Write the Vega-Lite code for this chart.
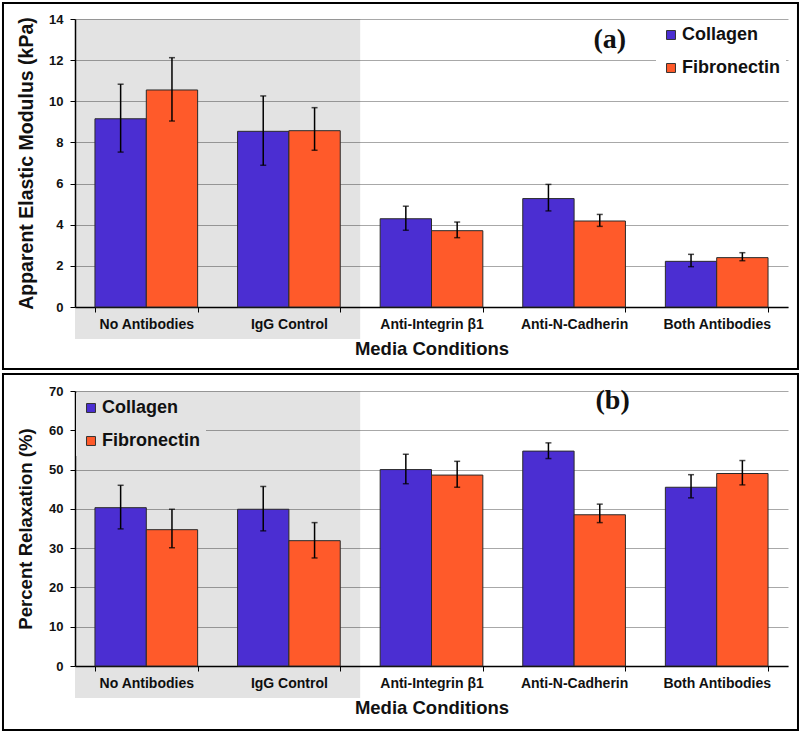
{
  "$schema": "https://vega.github.io/schema/vega-lite/v6.json",
  "padding": {"left": 1, "top": 1, "right": 2, "bottom": 2},
  "background": "white",
  "config": {"view": {"stroke": null}, "font": "Liberation Sans"},
  "datasets": {
    "modulus": [
      {"condition": "No Antibodies", "series": "Collagen", "value": 9.15, "lo": 7.53, "hi": 10.83},
      {"condition": "No Antibodies", "series": "Fibronectin", "value": 10.55, "lo": 9.04, "hi": 12.12},
      {"condition": "IgG Control", "series": "Collagen", "value": 8.54, "lo": 6.89, "hi": 10.26},
      {"condition": "IgG Control", "series": "Fibronectin", "value": 8.57, "lo": 7.62, "hi": 9.69},
      {"condition": "Anti-Integrin β1", "series": "Collagen", "value": 4.29, "lo": 3.73, "hi": 4.9},
      {"condition": "Anti-Integrin β1", "series": "Fibronectin", "value": 3.71, "lo": 3.37, "hi": 4.13},
      {"condition": "Anti-N-Cadherin", "series": "Collagen", "value": 5.27, "lo": 4.67, "hi": 5.96},
      {"condition": "Anti-N-Cadherin", "series": "Fibronectin", "value": 4.18, "lo": 3.92, "hi": 4.5},
      {"condition": "Both Antibodies", "series": "Collagen", "value": 2.22, "lo": 1.96, "hi": 2.56},
      {"condition": "Both Antibodies", "series": "Fibronectin", "value": 2.4, "lo": 2.25, "hi": 2.64}
    ],
    "relax": [
      {"condition": "No Antibodies", "series": "Collagen", "value": 40.3, "lo": 34.9, "hi": 46.0},
      {"condition": "No Antibodies", "series": "Fibronectin", "value": 34.7, "lo": 30.1, "hi": 39.9},
      {"condition": "IgG Control", "series": "Collagen", "value": 39.9, "lo": 34.4, "hi": 45.7},
      {"condition": "IgG Control", "series": "Fibronectin", "value": 31.9, "lo": 27.5, "hi": 36.5},
      {"condition": "Anti-Integrin β1", "series": "Collagen", "value": 50.0, "lo": 46.4, "hi": 53.9},
      {"condition": "Anti-Integrin β1", "series": "Fibronectin", "value": 48.6, "lo": 45.5, "hi": 52.1},
      {"condition": "Anti-N-Cadherin", "series": "Collagen", "value": 54.7, "lo": 52.8, "hi": 56.8},
      {"condition": "Anti-N-Cadherin", "series": "Fibronectin", "value": 38.5, "lo": 36.5, "hi": 41.2},
      {"condition": "Both Antibodies", "series": "Collagen", "value": 45.5, "lo": 42.8, "hi": 48.7},
      {"condition": "Both Antibodies", "series": "Fibronectin", "value": 49.0, "lo": 46.1, "hi": 52.3}
    ]
  },
  "spacing": 2,
  "resolve": {"scale": {"color": "independent"}, "legend": {"color": "independent"}},
  "vconcat": [
    {
      "width": 713,
      "height": 288,
      "resolve": {"scale": {"x": "independent", "y": "independent"}, "axis": {"x": "independent", "y": "independent"}},
      "layer": [
        {
          "data": {"values": [{}]},
          "layer": [
            {
              "mark": {"type": "rect", "fill": "black", "fillOpacity": 0.11},
              "encoding": {
                "x": {"datum": 0, "type": "quantitative", "scale": {"domain": [0, 5], "nice": false, "zero": false}, "axis": null},
                "x2": {"datum": 2},
                "y": {"datum": -1.55, "type": "quantitative", "scale": {"domain": [0, 14], "nice": false, "zero": false}, "axis": null},
                "y2": {"datum": 14}
              }
            },
            {
              "mark": {"type": "rect", "fillOpacity": 0, "stroke": "black", "strokeWidth": 2},
              "encoding": {
                "x": {"datum": -0.505, "type": "quantitative", "scale": {"domain": [0, 5], "nice": false, "zero": false}, "axis": null},
                "x2": {"datum": 5.07},
                "y": {"datum": -3.01, "type": "quantitative", "scale": {"domain": [0, 14], "nice": false, "zero": false}, "axis": null},
                "y2": {"datum": 14.78}
              }
            },
            {
              "mark": {"type": "text", "font": "Liberation Serif", "fontWeight": "bold", "fontSize": 28, "color": "#111"},
              "encoding": {
                "x": {"datum": 3.75, "type": "quantitative", "scale": {"domain": [0, 5], "nice": false, "zero": false}, "axis": null},
                "y": {"datum": 12.98, "type": "quantitative", "scale": {"domain": [0, 14], "nice": false, "zero": false}, "axis": null},
                "text": {"value": "(a)"}
              }
            }
          ]
        },
        {
          "data": {"name": "modulus"},
          "encoding": {
            "x": {
              "field": "condition", "type": "nominal",
              "sort": ["No Antibodies", "IgG Control", "Anti-Integrin β1", "Anti-N-Cadherin", "Both Antibodies"],
              "scale": {"paddingInner": 0.28, "paddingOuter": 0.14},
              "axis": {"title": "Media Conditions", "labelAngle": 0, "tickBand": "extent", "domainColor": "black", "domainWidth": 1.5, "tickColor": "black", "tickSize": 5, "labelFontWeight": "bold", "labelFontSize": 14, "labelColor": "#111", "labelPadding": 5, "titleFontSize": 18.5, "titleFontWeight": "bold", "titleColor": "#111", "titlePadding": 8}
            },
            "xOffset": {"field": "series", "sort": ["Collagen", "Fibronectin"], "scale": {"paddingInner": 0, "paddingOuter": 0}}
          },
          "layer": [
            {
              "mark": {"type": "bar", "stroke": "#2a2a2a", "strokeWidth": 1},
              "encoding": {
                "y": {"field": "value", "type": "quantitative", "title": "Apparent Elastic Modulus (kPa)", "scale": {"domain": [0, 14], "nice": false},
                  "axis": {"values": [0, 2, 4, 6, 8, 10, 12, 14], "grid": true, "gridColor": "#a8a8a8", "domainColor": "black", "domainWidth": 1.5, "tickColor": "black", "tickSize": 5, "labelFontWeight": "bold", "labelFontSize": 13, "labelColor": "#111", "labelPadding": 7, "titleFontSize": 19.5, "titleFontWeight": "bold", "titleColor": "#111", "titlePadding": 12}},
                "color": {"field": "series", "type": "nominal", "scale": {"domain": ["Collagen", "Fibronectin"], "range": ["#4b2ed2", "#ff5a2a"]},
                  "legend": {"orient": "none", "legendX": 581, "legendY": 1, "title": null, "symbolType": "square", "symbolSize": 80, "symbolStrokeColor": "#333", "symbolStrokeWidth": 1, "labelFontSize": 18, "labelFontWeight": "bold", "labelColor": "#111", "rowPadding": 15, "fillColor": "white", "padding": 6, "labelOffset": 2}}
              }
            },
            {
              "mark": {"type": "rule", "color": "black", "strokeWidth": 1.5},
              "encoding": {
                "y": {"field": "lo", "type": "quantitative", "title": "Apparent Elastic Modulus (kPa)", "scale": {"domain": [0, 14], "nice": false},
                  "axis": {"values": [0, 2, 4, 6, 8, 10, 12, 14], "grid": true, "gridColor": "#a8a8a8", "domainColor": "black", "domainWidth": 1.5, "tickColor": "black", "tickSize": 5, "labelFontWeight": "bold", "labelFontSize": 13, "labelColor": "#111", "labelPadding": 7, "titleFontSize": 19.5, "titleFontWeight": "bold", "titleColor": "#111", "titlePadding": 12}},
                "y2": {"field": "hi"}
              }
            },
            {
              "mark": {"type": "tick", "orient": "horizontal", "size": 6, "thickness": 1.5, "color": "black"},
              "encoding": {"y": {"field": "lo", "type": "quantitative", "title": "Apparent Elastic Modulus (kPa)", "scale": {"domain": [0, 14], "nice": false},
                  "axis": {"values": [0, 2, 4, 6, 8, 10, 12, 14], "grid": true, "gridColor": "#a8a8a8", "domainColor": "black", "domainWidth": 1.5, "tickColor": "black", "tickSize": 5, "labelFontWeight": "bold", "labelFontSize": 13, "labelColor": "#111", "labelPadding": 7, "titleFontSize": 19.5, "titleFontWeight": "bold", "titleColor": "#111", "titlePadding": 12}}}
            },
            {
              "mark": {"type": "tick", "orient": "horizontal", "size": 6, "thickness": 1.5, "color": "black"},
              "encoding": {"y": {"field": "hi", "type": "quantitative", "title": "Apparent Elastic Modulus (kPa)", "scale": {"domain": [0, 14], "nice": false},
                  "axis": {"values": [0, 2, 4, 6, 8, 10, 12, 14], "grid": true, "gridColor": "#a8a8a8", "domainColor": "black", "domainWidth": 1.5, "tickColor": "black", "tickSize": 5, "labelFontWeight": "bold", "labelFontSize": 13, "labelColor": "#111", "labelPadding": 7, "titleFontSize": 19.5, "titleFontWeight": "bold", "titleColor": "#111", "titlePadding": 12}}}
            }
          ]
        }
      ]
    },
    {
      "width": 713,
      "height": 275,
      "resolve": {"scale": {"x": "independent", "y": "independent"}, "axis": {"x": "independent", "y": "independent"}},
      "layer": [
        {
          "data": {"values": [{}]},
          "layer": [
            {
              "mark": {"type": "rect", "fill": "black", "fillOpacity": 0.11},
              "encoding": {
                "x": {"datum": 0, "type": "quantitative", "scale": {"domain": [0, 5], "nice": false, "zero": false}, "axis": null},
                "x2": {"datum": 2},
                "y": {"datum": -8.14, "type": "quantitative", "scale": {"domain": [0, 70], "nice": false, "zero": false}, "axis": null},
                "y2": {"datum": 70}
              }
            },
            {
              "mark": {"type": "rect", "fillOpacity": 0, "stroke": "black", "strokeWidth": 2},
              "encoding": {
                "x": {"datum": -0.505, "type": "quantitative", "scale": {"domain": [0, 5], "nice": false, "zero": false}, "axis": null},
                "x2": {"datum": 5.07},
                "y": {"datum": -16.29, "type": "quantitative", "scale": {"domain": [0, 70], "nice": false, "zero": false}, "axis": null},
                "y2": {"datum": 74.33}
              }
            },
            {
              "mark": {"type": "text", "font": "Liberation Serif", "fontWeight": "bold", "fontSize": 28, "color": "#111"},
              "encoding": {
                "x": {"datum": 3.77, "type": "quantitative", "scale": {"domain": [0, 5], "nice": false, "zero": false}, "axis": null},
                "y": {"datum": 67.5, "type": "quantitative", "scale": {"domain": [0, 70], "nice": false, "zero": false}, "axis": null},
                "text": {"value": "(b)"}
              }
            }
          ]
        },
        {
          "data": {"name": "relax"},
          "encoding": {
            "x": {
              "field": "condition", "type": "nominal",
              "sort": ["No Antibodies", "IgG Control", "Anti-Integrin β1", "Anti-N-Cadherin", "Both Antibodies"],
              "scale": {"paddingInner": 0.28, "paddingOuter": 0.14},
              "axis": {"title": "Media Conditions", "labelAngle": 0, "tickBand": "extent", "domainColor": "black", "domainWidth": 1.5, "tickColor": "black", "tickSize": 5, "labelFontWeight": "bold", "labelFontSize": 14, "labelColor": "#111", "labelPadding": 5, "titleFontSize": 18.5, "titleFontWeight": "bold", "titleColor": "#111", "titlePadding": 8}
            },
            "xOffset": {"field": "series", "sort": ["Collagen", "Fibronectin"], "scale": {"paddingInner": 0, "paddingOuter": 0}}
          },
          "layer": [
            {
              "mark": {"type": "bar", "stroke": "#2a2a2a", "strokeWidth": 1},
              "encoding": {
                "y": {"field": "value", "type": "quantitative", "title": "Percent Relaxation (%)", "scale": {"domain": [0, 70], "nice": false},
                  "axis": {"values": [0, 10, 20, 30, 40, 50, 60, 70], "grid": true, "gridColor": "#a8a8a8", "domainColor": "black", "domainWidth": 1.5, "tickColor": "black", "tickSize": 5, "labelFontWeight": "bold", "labelFontSize": 13, "labelColor": "#111", "labelPadding": 7, "titleFontSize": 18.6, "titleFontWeight": "bold", "titleColor": "#111", "titlePadding": 13}},
                "color": {"field": "series", "type": "nominal", "scale": {"domain": ["Collagen", "Fibronectin"], "range": ["#4b2ed2", "#ff5a2a"]},
                  "legend": {"orient": "none", "legendX": 1, "legendY": 2, "title": null, "symbolType": "square", "symbolSize": 80, "symbolStrokeColor": "#333", "symbolStrokeWidth": 1, "labelFontSize": 18, "labelFontWeight": "bold", "labelColor": "#111", "rowPadding": 15, "fillColor": "#e3e3e3", "padding": 6, "labelOffset": 2}}
              }
            },
            {
              "mark": {"type": "rule", "color": "black", "strokeWidth": 1.5},
              "encoding": {
                "y": {"field": "lo", "type": "quantitative", "title": "Percent Relaxation (%)", "scale": {"domain": [0, 70], "nice": false},
                  "axis": {"values": [0, 10, 20, 30, 40, 50, 60, 70], "grid": true, "gridColor": "#a8a8a8", "domainColor": "black", "domainWidth": 1.5, "tickColor": "black", "tickSize": 5, "labelFontWeight": "bold", "labelFontSize": 13, "labelColor": "#111", "labelPadding": 7, "titleFontSize": 18.6, "titleFontWeight": "bold", "titleColor": "#111", "titlePadding": 13}},
                "y2": {"field": "hi"}
              }
            },
            {
              "mark": {"type": "tick", "orient": "horizontal", "size": 6, "thickness": 1.5, "color": "black"},
              "encoding": {"y": {"field": "lo", "type": "quantitative", "title": "Percent Relaxation (%)", "scale": {"domain": [0, 70], "nice": false},
                  "axis": {"values": [0, 10, 20, 30, 40, 50, 60, 70], "grid": true, "gridColor": "#a8a8a8", "domainColor": "black", "domainWidth": 1.5, "tickColor": "black", "tickSize": 5, "labelFontWeight": "bold", "labelFontSize": 13, "labelColor": "#111", "labelPadding": 7, "titleFontSize": 18.6, "titleFontWeight": "bold", "titleColor": "#111", "titlePadding": 13}}}
            },
            {
              "mark": {"type": "tick", "orient": "horizontal", "size": 6, "thickness": 1.5, "color": "black"},
              "encoding": {"y": {"field": "hi", "type": "quantitative", "title": "Percent Relaxation (%)", "scale": {"domain": [0, 70], "nice": false},
                  "axis": {"values": [0, 10, 20, 30, 40, 50, 60, 70], "grid": true, "gridColor": "#a8a8a8", "domainColor": "black", "domainWidth": 1.5, "tickColor": "black", "tickSize": 5, "labelFontWeight": "bold", "labelFontSize": 13, "labelColor": "#111", "labelPadding": 7, "titleFontSize": 18.6, "titleFontWeight": "bold", "titleColor": "#111", "titlePadding": 13}}}
            }
          ]
        }
      ]
    }
  ]
}
